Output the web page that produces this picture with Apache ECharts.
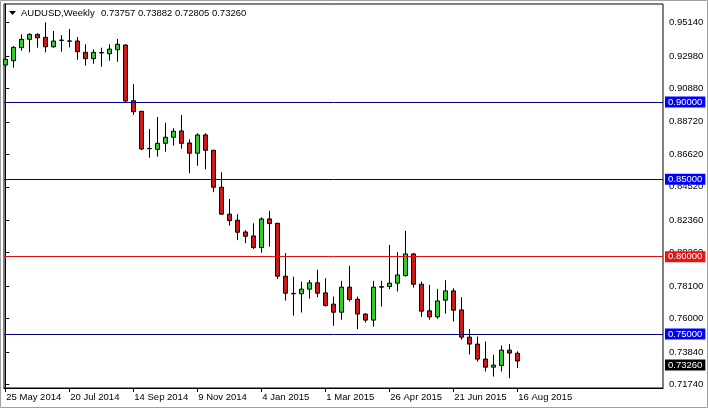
<!DOCTYPE html>
<html>
<head>
<meta charset="utf-8">
<script src="https://cdn.jsdelivr.net/npm/echarts@6/dist/echarts.min.js"></script>
<style>
html,body{margin:0;padding:0;background:#fff;}
#chart{width:708px;height:408px;}
</style>
</head>
<body>
<div id="chart"></div>
<script>
// Weekly AUDUSD candles, week index 0 = 25 May 2014
const opens  = [0.9239,0.9267,0.9351,0.9405,0.9437,0.9418,0.9357,0.9400,0.9393,0.9394,0.9321,0.9280,0.9317,0.9312,0.9338,0.9368,0.9008,0.8940,0.8700,0.8694,0.8733,0.8772,0.8813,0.8735,0.8669,0.8787,0.8688,0.8449,0.8275,0.8236,0.8160,0.8134,0.8059,0.8244,0.8216,0.7874,0.7763,0.7760,0.7790,0.7831,0.7766,0.7693,0.7641,0.7803,0.7725,0.7629,0.7590,0.7803,0.7807,0.7829,0.7878,0.8018,0.7822,0.7650,0.7611,0.7719,0.7779,0.7656,0.7480,0.7435,0.7338,0.7286,0.7297,0.7396,0.73757];
const closes = [0.9276,0.9353,0.9405,0.9437,0.9415,0.9357,0.9394,0.9398,0.9395,0.9325,0.9280,0.9321,0.9320,0.9342,0.9373,0.9006,0.8937,0.8696,0.8698,0.8733,0.8772,0.8811,0.8733,0.8669,0.8787,0.8688,0.8449,0.8275,0.8233,0.8158,0.8132,0.8059,0.8244,0.8214,0.7874,0.7764,0.7760,0.7790,0.7831,0.7764,0.7684,0.7641,0.7803,0.7723,0.7629,0.7590,0.7803,0.7806,0.7829,0.7882,0.8018,0.7822,0.7648,0.7611,0.7714,0.7779,0.7654,0.7480,0.7435,0.7338,0.7286,0.7299,0.7396,0.7377,0.73260];
const lows   = [0.9207,0.9222,0.9331,0.9321,0.9351,0.9321,0.9351,0.9325,0.9353,0.9273,0.9235,0.9247,0.9228,0.9267,0.9260,0.8998,0.8916,0.8690,0.8640,0.8647,0.8679,0.8718,0.8698,0.8539,0.8588,0.8565,0.8417,0.8272,0.8201,0.8107,0.8087,0.8050,0.8026,0.8065,0.7855,0.7716,0.7619,0.7639,0.7729,0.7738,0.7678,0.7553,0.7592,0.7710,0.7532,0.7574,0.7548,0.7678,0.7790,0.7775,0.7871,0.7800,0.7611,0.7592,0.7598,0.7632,0.7581,0.7463,0.7368,0.7322,0.7258,0.7225,0.7258,0.7215,0.72805];
const highs  = [0.9329,0.9362,0.9437,0.9444,0.9444,0.9515,0.9459,0.9433,0.9472,0.9420,0.9373,0.9340,0.9351,0.9373,0.9407,0.9373,0.9116,0.8942,0.8826,0.8903,0.8866,0.8830,0.8916,0.8759,0.8798,0.8798,0.8690,0.8546,0.8373,0.8275,0.8171,0.8216,0.8255,0.8296,0.8218,0.8023,0.7871,0.7839,0.7850,0.7915,0.7861,0.7742,0.7844,0.7941,0.7742,0.7635,0.7844,0.7844,0.8076,0.8029,0.8167,0.8023,0.7839,0.7818,0.7792,0.7848,0.7796,0.7738,0.7532,0.7484,0.7452,0.7366,0.7426,0.7435,0.73882];

const dateTickIdx    = [0, 8, 16, 24, 32, 40, 48, 56, 64];
const dateTickLabels = ["25 May 2014","20 Jul 2014","14 Sep 2014","9 Nov 2014","4 Jan 2015","1 Mar 2015","26 Apr 2015","21 Jun 2015","16 Aug 2015"];
const priceTicks     = [0.95140,0.92980,0.90880,0.88720,0.86620,0.84520,0.82360,0.80260,0.78100,0.76000,0.73840,0.71740];
const levelLines     = [0.90000, 0.85000, 0.80000, 0.75000];
const levelKinds     = ["blue","blue","red","blue"];
const lastPrice      = 0.73260;
const headerSymbol   = "AUDUSD,Weekly";
const headerOHLC     = "0.73757 0.73882 0.72805 0.73260";

const FONT = "'Liberation Sans', Arial, sans-serif";
const candleData = opens.map((o, i) => [i, o, closes[i], lows[i], highs[i]]);

const markData = levelLines.map((v, i) => {
  const red = levelKinds[i] === "red";
  return {
    yAxis: v,
    lineStyle: { color: red ? '#e01010' : '#000080', width: 1, type: 'solid' },
    label: {
      show: true, position: 'end', distance: 2,
      formatter: v.toFixed(5),
      color: '#fff', backgroundColor: red ? '#e81414' : '#0000ff',
      fontFamily: FONT, fontSize: 9.5, lineHeight: 11, padding: [0, 3, 0, 3]
    }
  };
});
markData.push({
  yAxis: lastPrice,
  lineStyle: { color: 'rgba(0,0,0,0)', width: 0 },
  label: {
    show: true, position: 'end', distance: 2,
    formatter: lastPrice.toFixed(5),
    color: '#fff', backgroundColor: '#000',
    fontFamily: FONT, fontSize: 9.5, lineHeight: 11, padding: [0, 3, 0, 3]
  }
});

const chart = echarts.init(document.getElementById('chart'), null, { renderer: 'canvas' });
chart.setOption({
  animation: false,
  backgroundColor: '#fff',
  grid: { left: 4, right: 45, top: 4, bottom: 20, show: true, borderColor: '#000', borderWidth: 1, backgroundColor: '#fff' },
  xAxis: {
    type: 'value',
    min: -0.1625, max: 82.2125,
    splitLine: { show: false },
    axisLine: { show: true, lineStyle: { color: '#000', width: 1 } },
    axisTick: { show: true, length: 4, inside: false, customValues: dateTickIdx, lineStyle: { color: '#000' } },
    axisLabel: {
      show: true, customValues: dateTickIdx, align: 'left', margin: 4,
      padding: [0, 0, 0, 1],
      color: '#000', fontFamily: FONT, fontSize: 9.5,
      formatter: (v) => { const j = dateTickIdx.indexOf(Math.round(v)); return j >= 0 ? dateTickLabels[j] : ''; }
    }
  },
  yAxis: {
    type: 'value', position: 'right',
    min: 0.71512, max: 0.96335,
    splitLine: { show: false },
    axisLine: { show: true, lineStyle: { color: '#000', width: 1 } },
    axisTick: { show: true, length: 4, inside: false, customValues: priceTicks, lineStyle: { color: '#000' } },
    axisLabel: {
      show: true, customValues: priceTicks, margin: 6,
      color: '#000', fontFamily: FONT, fontSize: 9.5,
      formatter: (v) => v.toFixed(5)
    }
  },
  series: [{
    type: 'candlestick',
    data: candleData,
    encode: { x: 0, y: [1, 2, 3, 4] },
    barWidth: 5,
    clip: true,
    itemStyle: {
      color: '#33cc33', color0: '#cc1a1a',
      borderColor: '#000', borderColor0: '#000', borderColorDoji: '#000',
      borderWidth: 1
    },
    markLine: {
      silent: true, symbol: ['none', 'none'], animation: false,
      data: markData
    },
    z: 3
  }],
  graphic: [
    { type: 'rect', shape: { x: 0.5, y: 0.5, width: 707, height: 407 }, style: { fill: 'none', stroke: '#a0a0a0', lineWidth: 1 }, z: 100 },
    { type: 'polygon', shape: { points: [[9, 11], [16, 11], [12.5, 15]] }, style: { fill: '#000' }, z: 100 },
    { type: 'text', x: 21, y: 13, style: { text: headerSymbol, fill: '#000', font: '9.5px ' + FONT, verticalAlign: 'middle', align: 'left' }, z: 100 },
    { type: 'text', x: 101, y: 13, style: { text: headerOHLC, fill: '#000', font: '9.5px ' + FONT, verticalAlign: 'middle', align: 'left' }, z: 100 }
  ]
});
</script>
</body>
</html>
